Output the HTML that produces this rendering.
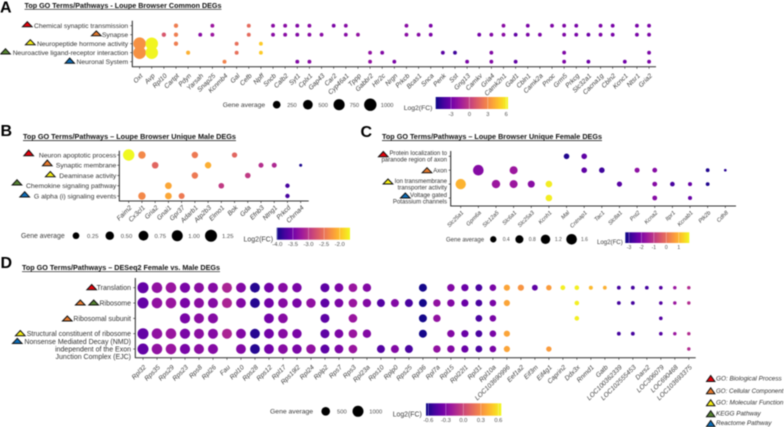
<!DOCTYPE html>
<html lang="en">
<head>
<meta charset="utf-8">
<title>Top GO Terms/Pathways dot plots</title>
<style>
html,body{margin:0;padding:0;background:#fff;width:784px;height:427px;overflow:hidden}
svg{display:block;filter:blur(.4px);font-family:"Liberation Sans",sans-serif}
.pl{font-weight:700;font-size:16px;fill:#000}
.ti{font-weight:700;font-size:7.6px;fill:#111}
.ul{stroke:#111;stroke-width:.7}
.tri{stroke:#111;stroke-width:1;stroke-linejoin:miter}
.key{font-style:italic;font-size:6.4px;fill:#333}
</style>
</head>
<body>
<svg id="chart" xmlns="http://www.w3.org/2000/svg" width="784" height="427" viewBox="0 0 784 427">
<defs id="defs"></defs>
<rect x="0" y="0" width="784" height="427" fill="#fff"/>

<text class="pl" x="0" y="12.5">A</text>
<text class="ti" x="24.5" y="8" textLength="197" lengthAdjust="spacingAndGlyphs">Top GO Terms/Pathways - Loupe Browser Common DEGs</text>
<line class="ul" x1="24.5" x2="221.5" y1="9.3" y2="9.3"/>
<text class="pl" x="0.5" y="136">B</text>
<text class="ti" x="23" y="139.2" textLength="213" lengthAdjust="spacingAndGlyphs">Top GO Terms/Pathways – Loupe Browser Unique Male DEGs</text>
<line class="ul" x1="23" x2="236" y1="140.6" y2="140.6"/>
<text class="pl" x="360.5" y="137">C</text>
<text class="ti" x="382" y="139" textLength="220" lengthAdjust="spacingAndGlyphs">Top GO Terms/Pathways – Loupe Browser Unique Female DEGs</text>
<line class="ul" x1="382" x2="602" y1="140.6" y2="140.6"/>
<text class="pl" x="0.5" y="268">D</text>
<text class="ti" x="22" y="270.2" textLength="198" lengthAdjust="spacingAndGlyphs">Top GO Terms/Pathways – DESeq2 Female vs. Male DEGs</text>
<line class="ul" x1="22" x2="220" y1="271.7" y2="271.7"/>

<g>
<polygon class="tri" fill="#e8000b" points="22.5,26.7 27.3,21.7 32.1,26.7"/>
<polygon class="tri" fill="#e87a2c" points="91.5,35.7 96.3,31 101.1,35.7"/>
<polygon class="tri" fill="#f5ee12" points="25.5,44.7 30.3,39.7 35.1,44.7"/>
<polygon class="tri" fill="#54822f" points="0.7,54 5.5,48.7 10.3,54"/>
<polygon class="tri" fill="#0b6cb8" points="65,63.3 69.7,58 74.5,63.3"/>

<polygon class="tri" fill="#e8000b" points="23.9,155.7 28.7,150 33.5,155.7"/>
<polygon class="tri" fill="#e87a2c" points="42.5,165.7 47.3,160 52.1,165.7"/>
<polygon class="tri" fill="#f5ee12" points="45.5,176.7 50.3,171.5 55.1,176.7"/>
<polygon class="tri" fill="#54822f" points="12.2,185 17,179.7 21.8,185"/>
<polygon class="tri" fill="#0b6cb8" points="19.9,197 24.7,191.7 29.5,197"/>

<polygon class="tri" fill="#e8000b" points="378.5,156.7 383.3,151.5 388.1,156.7"/>
<polygon class="tri" fill="#e87a2c" points="422.2,172.7 427,167.7 431.8,172.7"/>
<polygon class="tri" fill="#f5ee12" points="383.2,184 388,179 392.8,184"/>
<polygon class="tri" fill="#0b6cb8" points="400.5,198 405.3,193 410.1,198"/>

<polygon class="tri" fill="#e8000b" points="86.9,289.7 91.7,284.5 96.5,289.7"/>
<polygon class="tri" fill="#e87a2c" points="75.5,305 80.3,300 85.1,305"/>
<polygon class="tri" fill="#54822f" points="88.9,305 93.7,300 98.5,305"/>
<polygon class="tri" fill="#e87a2c" points="62.5,321 67.3,316 72.1,321"/>
<polygon class="tri" fill="#f5ee12" points="15.5,335.7 20.3,330.5 25.1,335.7"/>
<polygon class="tri" fill="#0b6cb8" points="12.5,343.5 17.3,338.3 22.1,343.5"/>
</g>

<g>
<polygon class="tri" fill="#e8000b" points="706.5,381.5 710.7,375.5 714.9,381.5"/>
<text class="key" x="716" y="380.3">GO: Biological Process</text>
<polygon class="tri" fill="#e87a2c" points="706.5,393.7 710.7,387.7 714.9,393.7"/>
<text class="key" x="716" y="393" textLength="67.5" lengthAdjust="spacingAndGlyphs">GO: Cellular Component</text>
<polygon class="tri" fill="#f5ee12" points="706.5,405.7 710.7,399.7 714.9,405.7"/>
<text class="key" x="716" y="404.6">GO: Molecular Function</text>
<polygon class="tri" fill="#54822f" points="706.5,416.7 710.7,410.7 714.9,416.7"/>
<text class="key" x="716" y="415.6">KEGG Pathway</text>
<polygon class="tri" fill="#0b6cb8" points="706.5,426.5 710.7,420.5 714.9,426.5"/>
<text class="key" x="716" y="425">Reactome Pathway</text>
</g>
</svg>

<script>
// ---------- Panel A ----------
const aGenes = ["Oxt","Avp","Rpl10","Cartpt","Pdyn","Yarsah","Snap25","Kcnmb4","Gal","Cefb","Npff","Sncb","Calb2","Syt1","Cplx1","Gap43","Car2","Cyp46a1","Tppp","Gabbr2","Htr2c","Nrgn","Prkcb","Bcas1","Snca","Penk","Sst","Gng13","Camkv","Gria4","Camk2n1","Gad1","Cbln1","Camk2a","Pnoc","Grm5","Prkcg","Slc32a1","Cacna1g","Cbln2","Kcnc1","Ntsr1","Gria2"];
const aAvg = [1030,1020,20,20,12,8,8,10,10,10,8,8,8,8,8,7,7,7,7,7,7,7,7,7,7,7,7,7,7,7,7,7,7,7,7,7,7,7,7,7,7,7,7];
const aFC = [3.2,6.2,1,2.5,4.2,-2.2,-1.6,2.7,2,1.8,5,-2.2,-2.2,-2.4,-2.2,-2.2,-2.6,-2.3,-1.9,-1.9,-2.4,-2.6,-2.2,-2.3,-2.6,-3.6,-4.4,-2.6,-2.8,-2.4,-2.2,-3.4,-2.6,-2.6,-2.5,-2.5,-2.7,-3,-2.6,-2.7,-2.9,-2.7,-2.6];
const aTerms = [["Chemical synaptic transmission"],["Synapse"],["Neuropeptide hormone activity"],["Neuroactive ligand-receptor interaction"],["Neuronal System"]];
const aMembers = [
 ["Cartpt","Snap25","Cefb","Sncb","Calb2","Syt1","Cplx1","Car2","Cyp46a1","Prkcb","Snca","Camk2n1","Cbln1","Pnoc","Grm5","Prkcg","Cacna1g","Cbln2","Ntsr1","Gria2"],
 ["Rpl10","Cartpt","Yarsah","Snap25","Cefb","Sncb","Calb2","Syt1","Cplx1","Gap43","Cyp46a1","Tppp","Prkcb","Bcas1","Snca","Camkv","Gria4","Camk2n1","Gad1","Cbln1","Camk2a","Grm5","Prkcg","Slc32a1","Cacna1g","Cbln2","Ntsr1","Gria2"],
 ["Oxt","Avp","Cartpt","Gal","Npff"],
 ["Oxt","Avp","Pdyn","Gal","Npff","Gabbr2","Htr2c","Penk","Sst","Gria4","Grm5","Gria2"],
 ["Kcnmb4","Syt1","Cplx1","Gabbr2","Nrgn","Gng13","Gria4","Gad1","Grm5","Slc32a1","Kcnc1","Gria2"]
];
const aSizeLegend = [250,500,750,1000];
const aSizeLabels = ["250","500","750","1000"];
const aColorTicks = [-3,0,3,6];
const aColorLabels = ["-3","0","3","6"];

// ---------- Panel B ----------
const bGenes = ["Faim2","Cx3cl1","Gria2","Gnai1","Gpr37","Adarb1","Atp2b3","Elmo1","Bok","Gda","Efnb3","Ntng1","Prkcd","Chrna4"];
const bAvg = [1.1,0.34,0.24,0.26,0.175,0.22,0.22,0.14,0.12,0.14,0.09,0.09,0.055,0.005];
const bFC = [-1.65,-2.35,-2.6,-2.15,-2.45,-2.45,-2.1,-2.95,-2.6,-2.95,-3.05,-3.1,-3.75,-3.95];
const bTerms = [["Neuron apoptotic process"],["Synaptic membrane"],["Deaminase activity"],["Chemokine signaling pathway"],["G alpha (i) signaling events"]];
const bMembers = [
 ["Faim2","Cx3cl1","Adarb1","Bok"],
 ["Gria2","Atp2b3","Efnb3","Ntng1","Chrna4"],
 ["Adarb1","Gda"],
 ["Gnai1","Elmo1","Prkcd"],
 ["Cx3cl1","Gnai1","Gpr37","Prkcd"]
];
const bSizeLegend = [0.25,0.5,0.75,1,1.25];
const bSizeLabels = ["0.25","0.50","0.75","1.00","1.25"];
const bColorTicks = [-4,-3.5,-3,-2.5,-2];
const bColorLabels = ["-4.0","-3.5","-3.0","-2.5","-2.0"];

// ---------- Panel C ----------
const cGenes = ["Slc25a1","Gpm6a","Slc12a5","Slc6a1","Slc25a3","Kcnh1","Mal","Cntnap1","Tac1","Slc8a1","Pnt2","Kcna2","Itpr1","Kcnab1","Ptk2b","Cdh8"];
const cAvg = [1.5,1.6,0.88,0.78,0.54,0.46,0.28,0.28,0.28,0.22,0.195,0.17,0.15,0.09,0.07,0.01];
const cFC = [0.97,-1.9,-1.6,-1.6,-1.85,1.7,-3.1,-2.4,-2.8,-2.5,-1.8,-1.9,-2.7,-2.3,-3.1,-3];
const cTerms = [["Protein localization to","paranode region of axon"],["Axon"],["Ion transmembrane","transporter activity"],["Voltage gated","Potassium channels"]];
const cMembers = [
 ["Mal","Cntnap1"],
 ["Gpm6a","Slc6a1","Cntnap1","Tac1","Pnt2","Kcna2","Ptk2b","Cdh8"],
 ["Slc25a1","Slc12a5","Slc6a1","Slc25a3","Kcnh1","Slc8a1","Kcna2","Itpr1","Kcnab1","Ptk2b"],
 ["Kcnh1","Kcna2","Kcnab1"]
];
const cSizeLegend = [0.4,0.8,1.2,1.6];
const cSizeLabels = ["0.4","0.8","1.2","1.6"];
const cColorTicks = [-3,-2,-1,0,1];
const cColorLabels = ["-3","-2","-1","0","1"];

// ---------- Panel D ----------
const dGenes = ["Rpl32","Rps35","Rps29","Rps23","Rps8","Rpl26","Fau","Rpl10","Rps28","Rps12","Rpl17","Rps19l2","Rpl24","Rplp2","Rps7","Rps3","Rpl23a","Rps10","Rplp0","Rps25","Rpl36","Rpl7a","Rpl15","Rpl22l1","Rpl31","Rpl10a","LOC103690996","Eef1a2","Eif3m","Eif4g1","Caprin2","Ddx3x","Rnmd1","Gatb","LOC100362339","LOC102555453","Dars2","LOC306079","LOC690468","LOC103693375"];
const dAvg = [1000,900,900,810,765,765,765,722,722,722,680,640,640,562,525,490,455,390,390,390,390,302,302,275,225,200,160,160,122,90,50,40,16,10,10,10,8,6,3,3];
const dFC = [-0.4,-0.25,-0.22,-0.33,-0.27,-0.29,-0.15,-0.3,-0.58,-0.35,-0.28,-0.33,-0.25,-0.42,-0.32,-0.22,-0.3,-0.45,-0.3,-0.48,-0.62,-0.25,-0.3,-0.38,-0.48,-0.33,0.38,0.32,-0.42,0.35,0.62,0.62,0.45,0.42,-0.5,-0.5,-0.5,-0.45,-0.22,-0.12];
const dTerms = [["Translation"],["Ribosome"],["Ribosomal subunit"],["Structural constituent of ribosome"],["Nonsense Mediated Decay (NMD)","independent of the Exon","Junction Complex (EJC)"]];
const dMembers = [
 ["Rpl32","Rps35","Rps29","Rps23","Rps8","Rpl26","Fau","Rpl10","Rps28","Rps12","Rpl17","Rps19l2","Rplp2","Rps7","Rps3","Rpl23a","Rpl36","Rpl15","Rpl22l1","Rpl31","Rpl10a","LOC103690996","Eef1a2","Eif3m","Eif4g1","Caprin2","Ddx3x","Rnmd1","Gatb","LOC100362339","LOC102555453","Dars2","LOC306079","LOC690468","LOC103693375"],
 ["Rpl32","Rps35","Rps29","Rps23","Rps8","Rpl26","Fau","Rpl10","Rps28","Rps12","Rpl17","Rps19l2","Rpl24","Rplp2","Rps7","Rps3","Rpl23a","Rps10","Rplp0","Rps25","Rpl36","Rpl7a","Rpl15","Rpl22l1","Rpl31","Rpl10a","LOC103690996","Ddx3x","LOC100362339","LOC102555453","LOC306079","LOC690468","LOC103693375"],
 ["Rps23","Rps8","Rpl26","Rps12","Rpl17","Rplp2","Rps3","Rpl36","Rpl7a","Rpl31","Rpl10a","Ddx3x","LOC306079"],
 ["Rpl32","Rps35","Rps29","Rps23","Rps8","Rpl26","Fau","Rpl10","Rps28","Rps12","Rpl17","Rps19l2","Rplp2","Rps7","Rps3","Rpl23a","Rpl36","Rpl15","Rpl22l1","Rpl31","Rpl10a","LOC103690996","LOC100362339","LOC102555453","LOC306079","LOC690468","LOC103693375"],
 ["Rpl32","Rps35","Rps29","Rps23","Rps8","Rpl26","Rpl10","Rps28","Rps12","Rpl17","Rps19l2","Rpl24","Rplp2","Rps7","Rps3","Rps10","Rplp0","Rps25","Rpl7a","Rpl15","Rpl22l1","Rpl31","Rpl10a","LOC103690996","Eif4g1","LOC103693375"]
];
const dSizeLegend = [500,1000];
const dSizeLabels = ["500","1000"];
const dColorTicks = [-0.6,-0.3,0,0.3,0.6];
const dColorLabels = ["-0.6","-0.3","0.0","0.3","0.6"];

// ---------- Plasma colour ramp ----------
const plasma = ["#0d0887","#46039f","#7201a8","#9c179e","#bd3786","#d8576b","#ed7953","#fb9f3a","#fdca26","#f0f921"];

function hexToRgb(h){return [parseInt(h.slice(1,3),16),parseInt(h.slice(3,5),16),parseInt(h.slice(5,7),16)];}
function plasmaAt(t){
  t=Math.max(0,Math.min(1,t));
  const p=t*(plasma.length-1),i=Math.min(plasma.length-2,Math.floor(p)),f=p-i;
  const a=hexToRgb(plasma[i]),b=hexToRgb(plasma[i+1]);
  return 'rgb('+a.map((v,k)=>Math.round(v+(b[k]-v)*f)).join(',')+')';
}
const NS='http://www.w3.org/2000/svg';
const svg=document.getElementById('chart');
const defs=document.getElementById('defs');
function mk(tag,attrs,parent,txt){
  const el=document.createElementNS(NS,tag);
  for(const k in attrs)el.setAttribute(k,attrs[k]);
  if(txt!==undefined)el.textContent=txt;
  (parent||svg).appendChild(el);
  return el;
}

function drawPanel(id,genes,avg,fc,terms,members,sizeVals,sizeLabels,colorTicks,colorLabels,L){
  const g=mk('g',{});
  
  
  const xScale=i=>L.x0+i*L.xStep;
  const yScale=r=>L.y0+r*L.yStep;
  const rScale=v=>L.rMin+(L.rMax-L.rMin)*Math.sqrt(v/L.sMax);
  const cT=v=>(v-L.cMin)/(L.cMax-L.cMin);
  const cX=v=>L.barX+cT(v)*L.barW;

  // axes
  const yAxis=mk('line',{x1:L.axX,x2:L.axX,y1:L.axTop,y2:L.axY+.4,stroke:'#222','stroke-width':1},g);
  
  
  const xAxis=mk('line',{x1:L.axX,x2:L.axEnd,y1:L.axY,y2:L.axY,stroke:'#333','stroke-width':1},g);
  
  

  // term labels
  terms.forEach((lines,r)=>{
    const y=yScale(r);
    const tk=mk('line',{x1:L.axX-2,x2:L.axX,y1:y,y2:y,stroke:'#333','stroke-width':.7},g);
    
    
    lines.forEach((t,j)=>{
      const off=L.lineOff?L.lineOff(lines.length,j):0;
      const lab=mk('text',{x:L.axX-L.labGap,y:y+off+L.termFs*.35,'text-anchor':'end','font-size':L.termFs,fill:'#333'},g,t);
      
      
    });
  });

  // gene ticks
  genes.forEach((name,i)=>{
    const x=xScale(i);
    const tk=mk('line',{x1:x,x2:x,y1:L.axY,y2:L.axY+2,stroke:'#333','stroke-width':.7},g);
    
    
    const ax=x+L.tickDx,ay=L.axY+L.tickDy;
    const lab=mk('text',{x:ax,y:ay,'text-anchor':'end','font-size':L.geneFs,'font-style':'italic',fill:'#3c3c3c',transform:'rotate(-45 '+ax+' '+ay+')'},g,name);
    
    
  });

  // dots
  members.forEach((list,r)=>{
    list.forEach(name=>{
      const i=genes.indexOf(name);
      const dot=mk('circle',{cx:xScale(i),cy:yScale(r),r:rScale(avg[i]),fill:plasmaAt(cT(fc[i]))},g);
      
      
    });
  });

  // size legend
  const title=mk('text',{x:L.sizeTitleX,y:L.legY+L.legFs*.35,'font-size':L.legFs+.3,fill:'#3c3c3c'},g,'Gene average');
  
  
  sizeVals.forEach((v,k)=>{
    const cx=L.sizeX0+k*L.sizeStep;
    const dot=mk('circle',{cx:cx,cy:L.legY,r:rScale(v),fill:'#000'},g);
    
    
    const lab=mk('text',{x:cx+L.sizeLabDx,y:L.legY+L.legFs*.33,'font-size':L.legFs-.7,fill:'#4c4c4c'},g,sizeLabels[k]);
    
    
  });

  // colour bar
  const gid='grad-'+id;
  const grad=mk('linearGradient',{id:gid,x1:0,x2:1,y1:0,y2:0},defs);
  plasma.forEach((c,k)=>{mk('stop',{offset:k/(plasma.length-1),'stop-color':c},grad);});
  const bar=mk('rect',{x:L.barX,y:L.barY,width:L.barW,height:L.barH,fill:'url(#'+gid+')'},g);
  
  
  const ct=mk('text',{x:L.barTitleX,y:L.barTitleY,'font-size':L.legFs+.4,fill:'#3c3c3c'},g,'Log2(FC)');
  
  
  colorTicks.forEach((v,k)=>{
    const x=cX(v);
    const tk=mk('line',{x1:x,x2:x,y1:L.barY,y2:L.barY+L.barH,stroke:'#fff','stroke-width':.4,'stroke-opacity':.7},g);
    
    
    const lab=mk('text',{x:x,y:L.barY+L.barH+L.barLabGap,'text-anchor':'middle','font-size':L.legFs-.7,fill:'#4c4c4c'},g,colorLabels[k]);
    
    
  });
}

drawPanel('a',aGenes,aAvg,aFC,aTerms,aMembers,aSizeLegend,aSizeLabels,aColorTicks,aColorLabels,{
  x0:139.6,xStep:12.13,y0:25.7,yStep:9,axX:132.3,axY:66.7,axTop:20.7,axEnd:656,labGap:4.2,termFs:6.72,geneFs:6.6,tickDx:3.5,tickDy:9.5,
  rMin:1.5,rMax:6.2,sMax:1000,cMin:-5.5,cMax:6.3,
  sizeTitleX:222.7,legY:104.7,legFs:6.4,sizeX0:276.7,sizeStep:31.2,sizeLabDx:10.5,
  barX:435.7,barY:97,barW:72.3,barH:12,barTitleX:403.7,barTitleY:110,barLabGap:7
});
drawPanel('b',bGenes,bAvg,bFC,bTerms,bMembers,bSizeLegend,bSizeLabels,bColorTicks,bColorLabels,{
  x0:128.7,xStep:13.23,y0:155,yStep:10.25,axX:119.3,axY:201,axTop:150.7,axEnd:308.7,labGap:3,termFs:6.8,geneFs:6.6,tickDx:3.5,tickDy:7,
  rMin:1.2,rMax:6,sMax:1.25,cMin:-4.02,cMax:-1.67,
  sizeTitleX:21,legY:235.7,legFs:6.6,sizeX0:76,sizeStep:33.75,sizeLabDx:11,
  barX:276.7,barY:227.7,barW:73.3,barH:12,barTitleX:243.5,barTitleY:241.5,barLabGap:6.5
});
const cLayout={
  x0:460.7,xStep:17.64,y0:156.3,yStep:13.9,axX:450.7,axY:206,axTop:151,axEnd:736,labGap:3.7,termFs:6.05,geneFs:5.7,tickDx:3.2,tickDy:7,
  lineOff:(n,j)=>n>1?(j-(n-1)/2)*6.6:0,
  rMin:1,rMax:5.3,sMax:1.6,cMin:-3.3,cMax:1.85,
  sizeTitleX:446,legY:239.3,legFs:5.7,sizeX0:493.3,sizeStep:26.1,sizeLabDx:9.4,
  barX:625.3,barY:232.3,barW:64,barH:10.7,barTitleX:597,barTitleY:244,barLabGap:6
};
drawPanel('c',cGenes,cAvg,cFC,cTerms,cMembers,cSizeLegend,cSizeLabels,cColorTicks,cColorLabels,cLayout);
drawPanel('d',dGenes,dAvg,dFC,dTerms,dMembers,dSizeLegend,dSizeLabels,dColorTicks,dColorLabels,{
  x0:143,xStep:13.995,y0:287.7,yStep:15.33,axX:135.3,axY:357.7,axTop:278,axEnd:695.7,labGap:4.3,termFs:7,geneFs:6.6,tickDx:3.5,tickDy:10,
  lineOff:(n,j)=>n>1?(j-(n-1)/2)*7.6:0,
  rMin:1.5,rMax:5.5,sMax:1000,cMin:-0.64,cMax:0.65,
  sizeTitleX:270,legY:411.3,legFs:6.5,sizeX0:325.7,sizeStep:32.3,sizeLabDx:11.3,
  barX:426,barY:403.3,barW:75.3,barH:12.4,barTitleX:392.7,barTitleY:416.5,barLabGap:6.5
});
</script>
</body>
</html>
